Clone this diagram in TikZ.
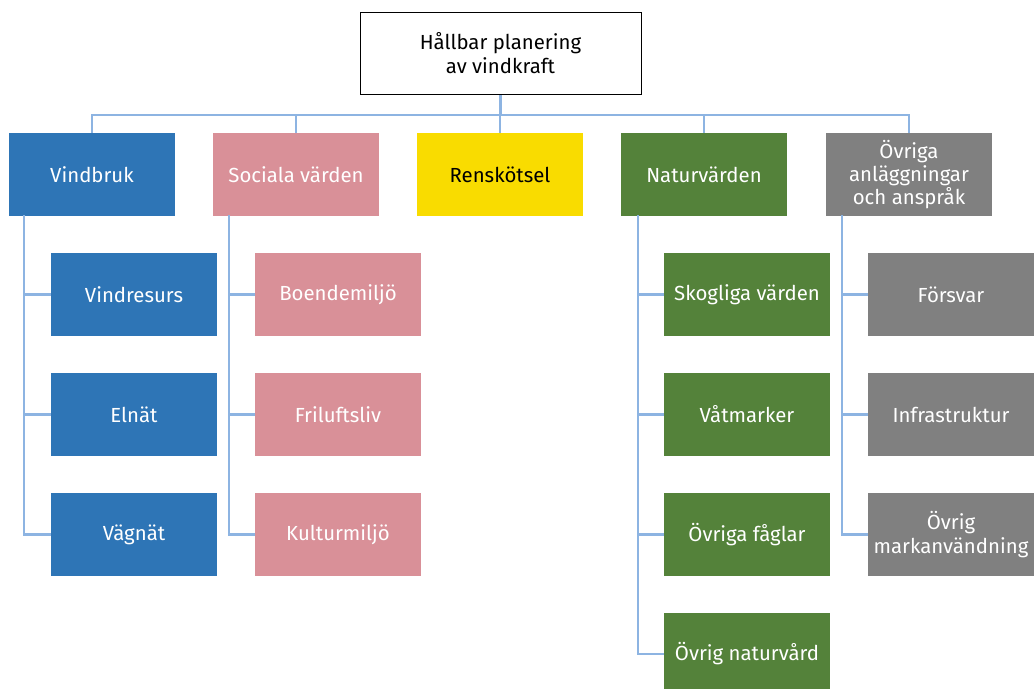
\documentclass[tikz,border=0pt]{standalone}
\usepackage{fontspec}
\setmainfont{Fira Sans}
\definecolor{vindBlue}{RGB}{46, 117, 182}
\definecolor{socialPink}{RGB}{217, 144, 152}
\definecolor{renYellow}{RGB}{249, 220, 0}
\definecolor{naturGreen}{RGB}{84, 130, 58}
\definecolor{ovrigGray}{RGB}{128, 128, 128}
\definecolor{linkBlue}{RGB}{141, 180, 226}
\usetikzlibrary{positioning}

\begin{document}
\begin{tikzpicture}[x=0.025cm, y=-0.025cm,
  box/.style={rectangle, minimum width=4.15cm, minimum height=2.05cm,
              align=center, font=\fontsize{14.5}{16.5}\selectfont, text=white,
              inner sep=2pt},
  vind/.style={box, fill=vindBlue},
  soc/.style={box, fill=socialPink},
  ren/.style={box, fill=renYellow, text=black},
  nat/.style={box, fill=naturGreen},
  ovr/.style={box, fill=ovrigGray},
  conn/.style={draw=linkBlue, line width=1.6pt},
]
  \useasboundingbox (0,0) rectangle (1035,689);

  % Top
  \node[rectangle, draw=black, line width=0.6pt, fill=white,
        minimum width=7.02cm, minimum height=2.07cm, align=center,
        font=\fontsize{14.5}{17}\selectfont] (top) at (500.5,53.5)
        {Hållbar planering\\av vindkraft};

  % Main groups
  \node[vind] (vindbruk) at (92,174.5)  {Vindbruk};
  \node[soc]  (sociala)  at (296,174.5) {Sociala värden};
  \node[ren]  (rensk)    at (500,174.5) {Renskötsel};
  \node[nat]  (natur)    at (704,174.5) {Naturvärden};
  \node[ovr]  (ovriga)   at (909,174.5) {Övriga\\anläggningar\\och anspråk};

  % Sub items
  \node[vind] (vindres) at (134,294.5) {Vindresurs};
  \node[vind] (elnat)   at (134,414.5) {Elnät};
  \node[vind] (vagnat)  at (134,534.5) {Vägnät};

  \node[soc] (boende)   at (338,294.5) {Boendemiljö};
  \node[soc] (frilufts) at (338,414.5) {Friluftsliv};
  \node[soc] (kultur)   at (338,534.5) {Kulturmiljö};

  \node[nat] (skog)    at (747,294.5) {Skogliga värden};
  \node[nat] (vatmark) at (747,414.5) {Våtmarker};
  \node[nat] (faglar)  at (747,534.5) {Övriga fåglar};
  \node[nat] (natvard) at (747,654)   {Övrig naturvård};

  \node[ovr] (forsvar) at (951,294.5) {Försvar};
  \node[ovr] (infra)   at (951,414.5) {Infrastruktur};
  \node[ovr] (markanv) at (951,534.5) {Övrig\\markanvändning};

  % Connectors from top
  \coordinate (bus) at (500.5,115);
  \draw[conn] (top.south) -- (bus);
  \foreach \g in {vindbruk,sociala,rensk,natur,ovriga} {
    \draw[conn] (bus) -| (\g.north);
  }

  % Trunks under groups
  \coordinate (vindtrunk) at (24,215.5);
  \coordinate (soctrunk)  at (229,215.5);
  \coordinate (nattrunk)  at (638,215.5);
  \coordinate (ovrtrunk)  at (842,215.5);

  \foreach \c in {vindres,elnat,vagnat} { \draw[conn] (vindtrunk) |- (\c.west); }
  \foreach \c in {boende,frilufts,kultur} { \draw[conn] (soctrunk) |- (\c.west); }
  \foreach \c in {skog,vatmark,faglar,natvard} { \draw[conn] (nattrunk) |- (\c.west); }
  \foreach \c in {forsvar,infra,markanv} { \draw[conn] (ovrtrunk) |- (\c.west); }

\end{tikzpicture}
\end{document}
